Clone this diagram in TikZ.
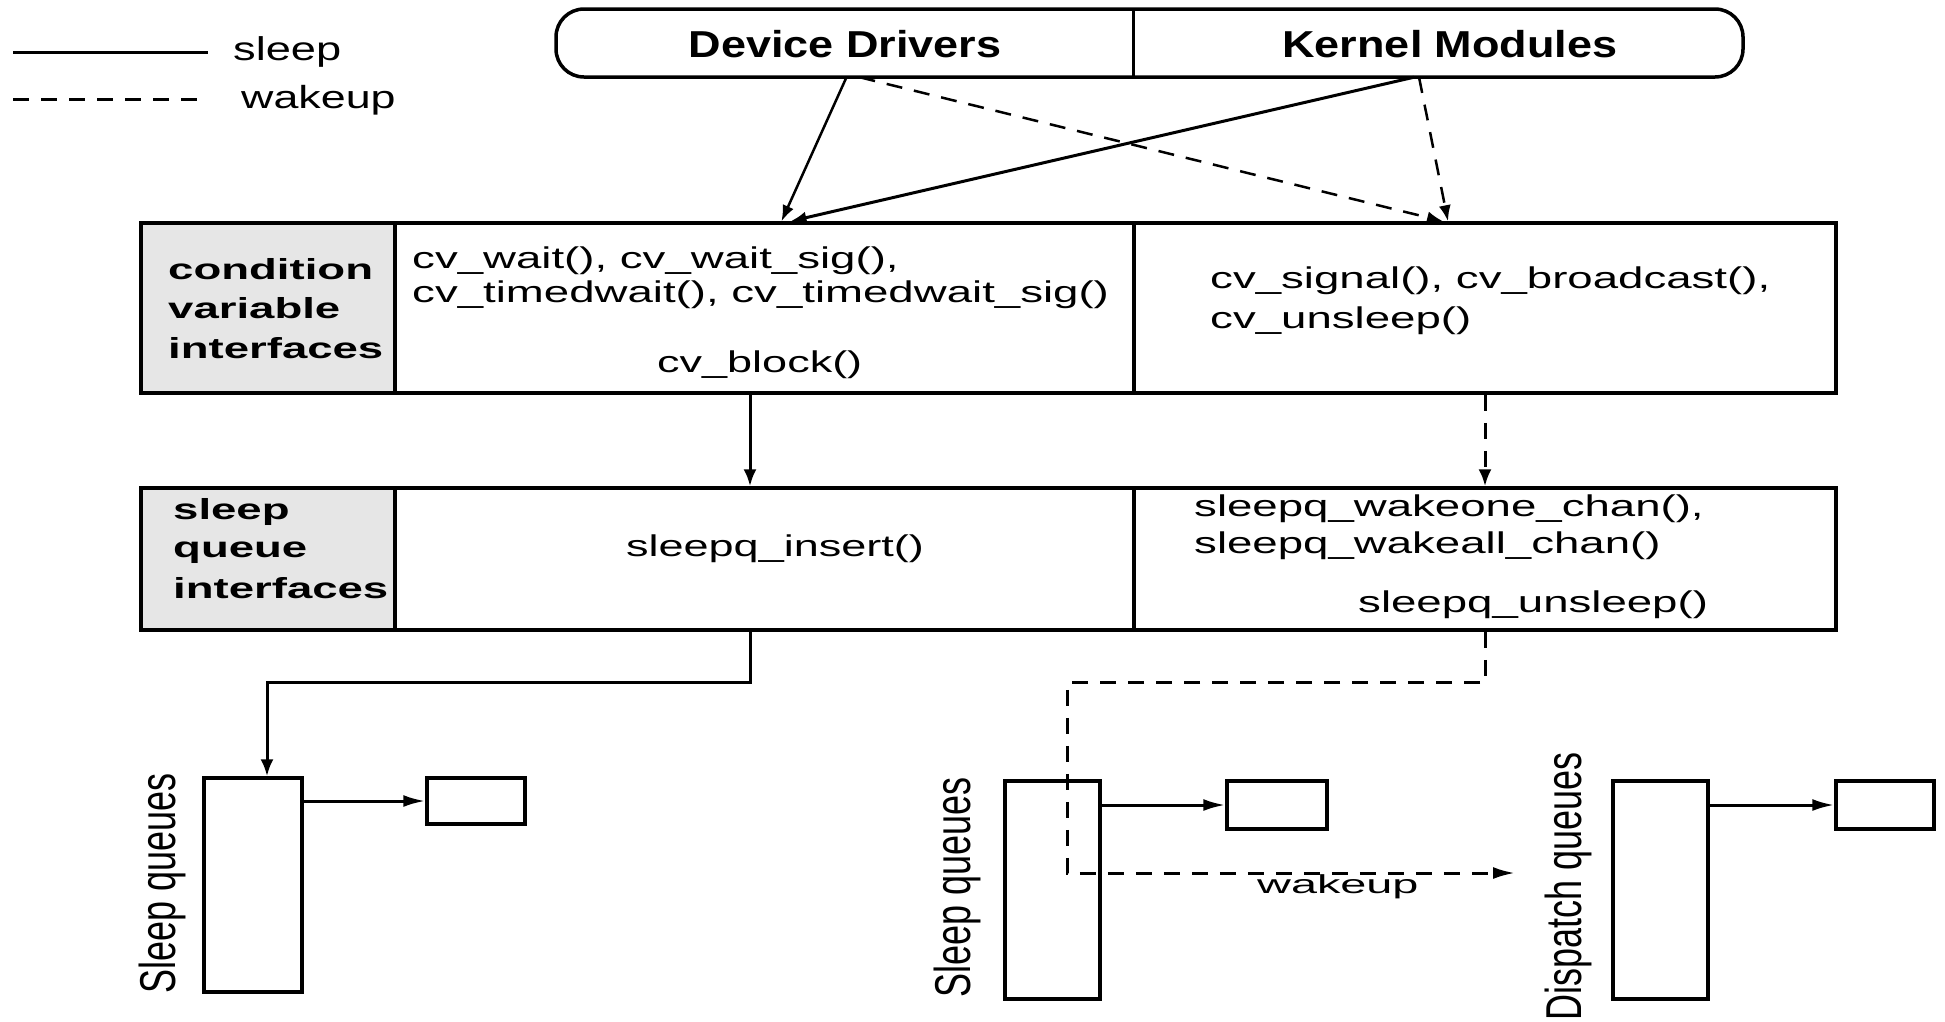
\documentclass[tikz,border=0pt]{standalone}
\usepackage{fontspec}
\setmainfont{Liberation Sans}
\usepackage{graphicx}
\usetikzlibrary{arrows.meta,calc}
\definecolor{cellgray}{HTML}{E6E6E6}
% widen text horizontally / stretch it vertically
\newcommand{\hstretch}[2]{\scalebox{#1}[1]{#2}}
\newcommand{\vstretch}[2]{\scalebox{1}[#1]{#2}}

\begin{document}
\begin{tikzpicture}[x=1pt,y=-1pt,
  frame/.style={draw, line width=3.5pt, inner sep=0pt},
  lbl/.style={anchor=base west, inner sep=0pt},
  body/.style={lbl, font=\fontsize{30}{30}\selectfont},
  head/.style={lbl, font=\bfseries\fontsize{29}{29}\selectfont},
  sleepline/.style={line width=3pt},
  wakeline/.style={line width=3pt, dash pattern=on 16pt off 12pt},
  stip/.style={-{Latex[length=16pt,width=12pt]}},
  vtip/.style={-{Latex[length=17pt,width=13pt]}},
  htip/.style={-{Latex[length=22pt,width=12pt]}},
]
\useasboundingbox (0,0) rectangle (1945,1021);

% legend
\node[lbl, font=\fontsize{33}{33}\selectfont] (legS) at (233,60) {\hstretch{1.37}{sleep}};
\node[lbl, font=\fontsize{32}{32}\selectfont] (legW) at (241,108) {\hstretch{1.4}{wakeup}};
\draw[sleepline] (13,52) -- (208,52);
\draw[wakeline] (13,99) -- (208,99);

% callers: drivers and modules
\node[frame, rounded corners=28pt, minimum width=1187pt, minimum height=68pt] (drv) at (1149.5,43) {};
\node[minimum width=577pt, minimum height=68pt, inner sep=0pt] (ddcell) at (844.5,43) {};
\node[minimum width=610pt, minimum height=68pt, inner sep=0pt] (kmcell) at (1438,43) {};
\draw[line width=3pt] (ddcell.north east) -- (ddcell.south east);
\node[lbl, anchor=base, font=\bfseries\fontsize{37.5}{37.5}\selectfont] (ddtext) at (845,57) {\hstretch{1.2}{Device Drivers}};
\node[lbl, anchor=base, font=\bfseries\fontsize{37.5}{37.5}\selectfont] (kmtext) at (1450,57) {\hstretch{1.2}{Kernel Modules}};

% condition variable layer
\node[frame, fill=cellgray, minimum width=254pt, minimum height=170pt] (cvgray) at (268,308) {};
\node[frame, minimum width=739pt, minimum height=170pt] (cvleft) at (764.5,308) {};
\node[frame, minimum width=702pt, minimum height=170pt] (cvright) at (1485,308) {};
\node[head] (cvh1) at (168,279) {\hstretch{1.57}{condition}};
\node[head] (cvh2) at (168,318) {\hstretch{1.57}{variable}};
\node[head] (cvh3) at (168,358) {\hstretch{1.57}{interfaces}};
\node[body] (cvw1) at (412,268) {\hstretch{1.52}{cv\_wait(), cv\_wait\_sig(),}};
\node[body] (cvw2) at (412,302) {\hstretch{1.52}{cv\_timedwait(), cv\_timedwait\_sig()}};
\node[body] (cvblk) at (657,372) {\hstretch{1.5}{cv\_block()}};
\node[body] (cvs1) at (1210,288) {\hstretch{1.52}{cv\_signal(), cv\_broadcast(),}};
\node[body] (cvs2) at (1210,328) {\hstretch{1.52}{cv\_unsleep()}};

% sleep queue layer
\node[frame, fill=cellgray, minimum width=254pt, minimum height=142pt] (sqgray) at (268,559) {};
\node[frame, minimum width=739pt, minimum height=142pt] (sqleft) at (764.5,559) {};
\node[frame, minimum width=702pt, minimum height=142pt] (sqright) at (1485,559) {};
\node[head] (sqh1) at (173,519) {\hstretch{1.57}{sleep}};
\node[head] (sqh2) at (173,557) {\hstretch{1.57}{queue}};
\node[head] (sqh3) at (173,598) {\hstretch{1.57}{interfaces}};
\node[body, anchor=base] (sqins) at (775,556) {\hstretch{1.5}{sleepq\_insert()}};
\node[body] (sqw1) at (1194,516) {\hstretch{1.52}{sleepq\_wakeone\_chan(),}};
\node[body] (sqw2) at (1194,553) {\hstretch{1.52}{sleepq\_wakeall\_chan()}};
\node[body] (squn) at (1358,612) {\hstretch{1.52}{sleepq\_unsleep()}};

% queues
\node[frame, minimum width=98pt, minimum height=214pt] (sq1) at (253,885) {};
\node[frame, minimum width=98pt, minimum height=46pt] (q1) at (476,801) {};
\node[frame, minimum width=95pt, minimum height=218pt] (sq2) at (1052.5,890) {};
\node[frame, minimum width=100pt, minimum height=48pt] (q2) at (1277,805) {};
\node[frame, minimum width=95pt, minimum height=218pt] (dq) at (1660.5,890) {};
\node[frame, minimum width=98pt, minimum height=48pt] (q3) at (1885,805) {};
\node[inner sep=0pt, rotate=90, font=\fontsize{36}{36}\selectfont] (sq1lbl) at (162,883) {\vstretch{1.4}{Sleep queues}};
\node[inner sep=0pt, rotate=90, font=\fontsize{36}{36}\selectfont] (sq2lbl) at (957,887) {\vstretch{1.4}{Sleep queues}};
\node[inner sep=0pt, rotate=90, font=\fontsize{36}{36}\selectfont] (dqlbl) at (1568,886) {\vstretch{1.4}{Dispatch queues}};
\node[lbl, font=\fontsize{26}{26}\selectfont] (wklbl) at (1257,893) {\hstretch{1.8}{wakeup}};
\coordinate (wkend) at (1515,873);

% calls into the condition variable layer
\draw[sleepline, line width=2.5pt, stip] ([xshift=2pt]ddcell.south) -- ([xshift=17pt]cvleft.north);
\draw[wakeline, line width=2.5pt, stip] ([xshift=15pt]ddcell.south) -- ([xshift=-42pt]cvright.north);
\draw[sleepline, stip] ([xshift=-24pt]kmcell.south) -- ([xshift=26pt]cvleft.north);
\draw[wakeline, line width=2.5pt, stip] ([xshift=-19pt]kmcell.south) -- ([xshift=-37pt]cvright.north);

% condition variables -> sleep queues
\draw[sleepline, vtip] ([xshift=-14.5pt]cvleft.south) -- ([xshift=-14.5pt]sqleft.north);
\draw[wakeline, vtip] (cvright.south) -- (sqright.north);

% sleep queue interfaces -> queues
\draw[sleepline, vtip] ([xshift=-14.5pt]sqleft.south) -- ++(0,51) -| ([xshift=14pt]sq1.north);
\draw[wakeline, htip] (sqright.south) -- ++(0,51) -| ([xshift=14.5pt]sq2.north) |- (wkend);

% queue heads -> entries
\draw[sleepline, htip] (sq1.east |- q1) -- (q1.west);
\draw[sleepline, htip] (sq2.east |- q2) -- (q2.west);
\draw[sleepline, htip] (dq.east |- q3) -- (q3.west);
\end{tikzpicture}
\end{document}
